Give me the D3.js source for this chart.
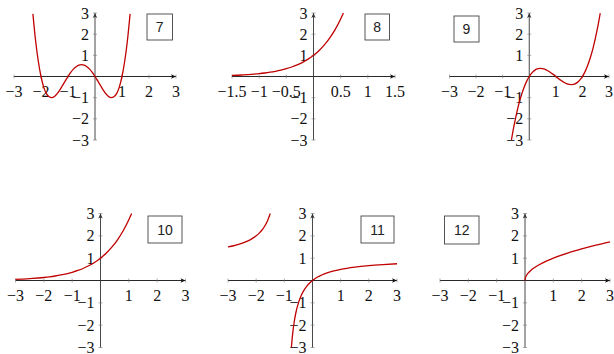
<!DOCTYPE html>
<html>
<head>
  <title>Function graphs 7-12</title>
  <style>
    html, body { margin:0; padding:0; background:white; }
    svg { display:block; }
    text.num { font-family: "Liberation Serif", "Times New Roman", Times, serif; font-size: 16px; }
    text.boxnum { font-family: "Liberation Sans", Arial, Helvetica, sans-serif; font-size: 14px; }
  </style>
  <script src="https://d3js.org/d3.v7.min.js"></script>
</head>
<body>
<svg id="canvas" width="614" height="354"></svg>
<script>
  // points: [x, y]
  var curve7 = [[-2.3,2.96],[-2.2,1.69],[-2.1,0.72],[-2,0],[-1.9,-0.5],[-1.8,-0.81],[-1.7,-0.96],[-1.6,-1.0],
    [-1.5,-0.94],[-1.4,-0.81],[-1.3,-0.63],[-1.2,-0.42],[-1.1,-0.21],[-1,0],[-0.9,0.19],[-0.8,0.35],[-0.7,0.46],
    [-0.6,0.54],[-0.5,0.56],[-0.4,0.54],[-0.3,0.46],[-0.2,0.35],[-0.1,0.19],[0,0],[0.1,-0.21],[0.2,-0.42],
    [0.3,-0.63],[0.4,-0.81],[0.5,-0.94],[0.6,-1.0],[0.7,-0.96],[0.8,-0.81],[0.9,-0.5],[1,0],[1.1,0.72],
    [1.2,1.69],[1.3,2.96]];
  var curve8 = [[-1.5,0.05],[-1.4,0.06],[-1.3,0.074],[-1.2,0.091],[-1.1,0.111],[-1,0.135],[-0.9,0.165],
    [-0.8,0.202],[-0.7,0.247],[-0.6,0.301],[-0.5,0.368],[-0.4,0.449],[-0.3,0.549],[-0.2,0.67],[-0.1,0.819],
    [0,1],[0.1,1.221],[0.2,1.492],[0.3,1.822],[0.4,2.226],[0.5,2.718],[0.55,3.0]];
  var curve9 = [[-0.67,-2.99],[-0.6,-2.5],[-0.5,-1.88],[-0.4,-1.34],[-0.3,-0.9],[-0.2,-0.53],[-0.1,-0.23],
    [0,0],[0.1,0.17],[0.2,0.29],[0.3,0.36],[0.4,0.38],[0.5,0.375],[0.6,0.34],[0.7,0.27],[0.8,0.19],[0.9,0.1],
    [1,0],[1.1,-0.1],[1.2,-0.19],[1.3,-0.27],[1.4,-0.34],[1.5,-0.375],[1.6,-0.38],[1.7,-0.36],[1.8,-0.29],
    [1.9,-0.17],[2,0],[2.1,0.23],[2.2,0.53],[2.3,0.9],[2.4,1.34],[2.5,1.88],[2.6,2.5],[2.67,2.99]];
  var curve10 = [[-3,0.05],[-2.8,0.061],[-2.6,0.074],[-2.4,0.091],[-2.2,0.111],[-2,0.135],[-1.8,0.165],
    [-1.6,0.202],[-1.4,0.247],[-1.2,0.301],[-1,0.368],[-0.8,0.449],[-0.6,0.549],[-0.4,0.67],[-0.2,0.819],
    [0,1],[0.2,1.221],[0.4,1.492],[0.6,1.822],[0.8,2.226],[1,2.718],[1.1,3.0]];
  var curve11a = [[-3,1.5],[-2.8,1.556],[-2.6,1.625],[-2.4,1.714],[-2.2,1.833],[-2,2],[-1.9,2.111],
    [-1.8,2.25],[-1.7,2.429],[-1.6,2.667],[-1.5,3]];
  var curve11b = [[-0.75,-3],[-0.7,-2.333],[-0.65,-1.857],[-0.6,-1.5],[-0.5,-1],[-0.4,-0.667],[-0.3,-0.429],
    [-0.2,-0.25],[-0.1,-0.111],[0,0],[0.1,0.091],[0.2,0.167],[0.3,0.231],[0.4,0.286],[0.6,0.375],[0.8,0.444],
    [1,0.5],[1.5,0.6],[2,0.667],[2.5,0.714],[3,0.75]];
  var curve12 = [[0,0],[0.01,0.1],[0.03,0.173],[0.06,0.245],[0.1,0.316],[0.2,0.447],[0.3,0.548],[0.5,0.707],
    [0.75,0.866],[1,1],[1.5,1.225],[2,1.414],[2.5,1.581],[3,1.732]];

  var ticksWhole = [-3,-2,-1,1,2,3];
  var ticksHalf = [-1.5,-1,-0.5,0.5,1,1.5];
  var yTicks = [-3,-2,-1,1,2,3];
  var panelNames = ["7","8","9","10","11","12"];

  var svg = d3.select("#canvas");
  var curveColor = "#c00000";

  // layout of the six little plots
  var panels = [
    {name: panelNames[0], xd: [-3,3], xr: [14,176], yr: [140,13], xt: ticksWhole, curves: [curve7], box: [147,14,25.5,26]},
    {name: panelNames[1], xd: [-1.5,1.5], xr: [232,395], yr: [140,13], xt: ticksHalf, curves: [curve8], box: [365,14,24.5,26]},
    {name: panelNames[2], xd: [-3,3], xr: [449.5,609], yr: [140,13], xt: ticksWhole, curves: [curve9], box: [454,16,25,26]},
    {name: panelNames[3], xd: [-3,3], xr: [15.5,185.5], yr: [347.5,213.5], xt: ticksWhole, curves: [curve10], box: [148,216,34,27]},
    {name: panelNames[4], xd: [-3,3], xr: [228,397], yr: [347.5,213.5], xt: ticksWhole, curves: [curve11a, curve11b], box: [361,216,33,27]},
    {name: panelNames[5], xd: [-3,3], xr: [440,610], yr: [347.5,213.5], xt: ticksWhole, curves: [curve12], box: [444.5,216,34.5,28]}
  ];

  var fmt = function(v) { return (v < 0 ? "\u2212" : "") + Math.abs(v); };

  panels.forEach(function(p) {
    var x = d3.scaleLinear().domain(p.xd).range(p.xr);
    var y = d3.scaleLinear().domain([-3,3]).range(p.yr);
    var g = svg.append("g");
    var x0 = x(0), y0 = y(0);

    // axes
    g.append("line").attr("x1", p.xr[0]).attr("x2", p.xr[1]).attr("y1", y0).attr("y2", y0)
      .attr("stroke", "#111").attr("stroke-width", 0.9);
    g.append("line").attr("x1", x0).attr("x2", x0).attr("y1", p.yr[0]).attr("y2", p.yr[1])
      .attr("stroke", "#333").attr("stroke-width", 0.9);
    // arrow heads
    g.append("path")
      .attr("d", "M" + p.xr[1] + "," + y0 + "l-5,-2.2l1.2,2.2l-1.2,2.2z").attr("fill", "#111");
    g.append("path")
      .attr("d", "M" + x0 + "," + p.yr[1] + "l-2.2,5l2.2,-1.2l2.2,1.2z").attr("fill", "#333");

    // ticks
    g.selectAll(".xt").data(p.xt).enter().append("line")
      .attr("x1", function(d) { return x(d); }).attr("x2", function(d) { return x(d); })
      .attr("y1", y0 - 2).attr("y2", y0 + 2)
      .attr("stroke", "#777").attr("stroke-width", 0.6);
    g.selectAll(".yt").data(yTicks).enter().append("line")
      .attr("y1", function(d) { return y(d); }).attr("y2", function(d) { return y(d); })
      .attr("x1", x0 - 2).attr("x2", x0 + 2)
      .attr("stroke", "#777").attr("stroke-width", 0.6);

    g.selectAll(".xl").data(p.xt).enter().append("text")
      .attr("class", "num")
      .attr("x", function(d) { return x(d); })
      .attr("y", y0 + 20)
      .attr("text-anchor", "middle")
      .attr("fill", "#111")
      .text(fmt);
    g.selectAll(".yl").data(yTicks).enter().append("text")
      .attr("class", "num")
      .attr("x", x0 - 6)
      .attr("y", function(d) { return y(d); })
      .attr("dy", "0.35em")
      .attr("text-anchor", "end")
      .attr("fill", "#111")
      .text(fmt);

    // graphs
    var line = d3.line()
      .x(function(d) { return x(d[0]); })
      .y(function(d) { return y(d[1]); })
      .curve(d3.curveMonotoneX);
    p.curves.forEach(function(c) {
      g.append("path").attr("d", line(c))
        .attr("fill", "none").attr("stroke", curveColor).attr("stroke-width", 1.3);
    });

    // number box
    g.append("rect").attr("x", p.box[0]).attr("y", p.box[1]).attr("width", p.box[2]).attr("height", p.box[3])
      .attr("fill", "white").attr("stroke", "#444").attr("stroke-width", 0.9);
    g.append("text")
      .attr("class", "boxnum")
      .attr("x", p.box[0] + p.box[2] / 2).attr("y", p.box[1] + p.box[3] / 2)
      .attr("dy", "0.36em").attr("text-anchor", "middle")
      .attr("fill", "#222")
      .text(p.name);
  });
</script>
</body>
</html>
